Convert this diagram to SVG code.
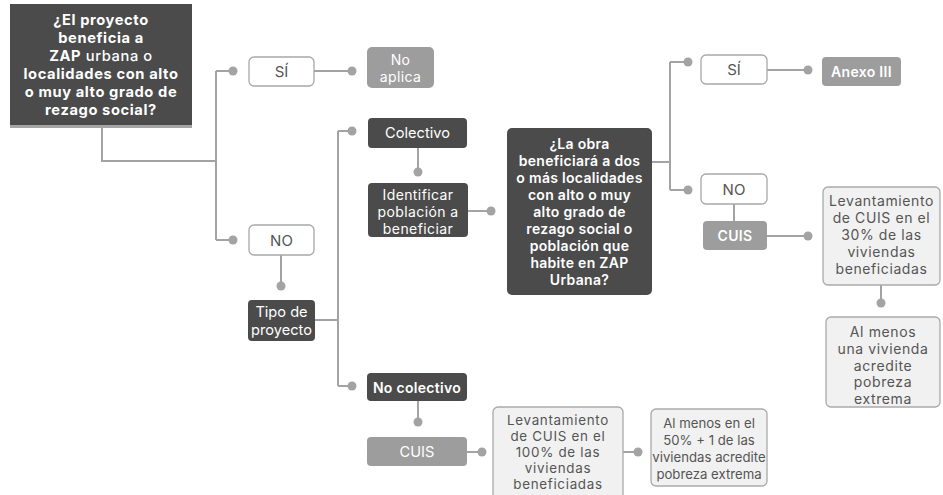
<svg xmlns="http://www.w3.org/2000/svg" width="943" height="495" viewBox="0 0 943 495">
<style>
text{font-family:Inter,"Open Sans","Liberation Sans",sans-serif;text-anchor:middle;dominant-baseline:central}
.dark{fill:#4b4b4b}
.mid{fill:#9d9d9d}
.white{fill:#fff;stroke:#a8a8a8;stroke-width:1.3}
.light{fill:#f1f1f1;stroke:#aaa;stroke-width:1.3}
.tw{fill:#fff;font-size:14.6px}
.tw2{fill:#fff;font-size:14px;letter-spacing:0.4px}
.twb{fill:#fff;font-size:14.7px;font-weight:700;letter-spacing:0.6px}
.tws{fill:#fff;font-size:14px;font-weight:600;letter-spacing:0.3px}
.tg{fill:#555;font-size:15px}
.tl{fill:#555;font-size:14px;letter-spacing:0.6px}
.tl2{fill:#555;font-size:13.4px;letter-spacing:0.7px}
.ts{fill:#555;font-size:13.2px}
.conn path{fill:none;stroke:#a3a3a3;stroke-width:2}
.conn circle{fill:#a3a3a3}
</style>
<rect width="943" height="495" fill="#fff"/>
<g class="conn" id="connectors">
<path d="M102,128 V161 H216 M216,71 V240 M216,71 H233 M216,240 H233"/>
<path d="M314,71 H352"/>
<path d="M281,255 V286"/>
<path d="M314,320 H338 M338,131 V386 M338,131 H352 M338,386 H352"/>
<path d="M418,148 V172"/>
<path d="M468,211 H491"/>
<path d="M652,162 H670 M670,62 V190 M670,62 H688 M670,190 H688"/>
<path d="M767,70 H808"/>
<path d="M734,204 V221"/>
<path d="M767,236 H808"/>
<path d="M881,285 V303"/>
<path d="M418,401 V422"/>
<path d="M467,452 H482"/>
<path d="M623,452 H638"/>
<circle cx="233" cy="71" r="4.5"/><circle cx="233" cy="240" r="4.5"/>
<circle cx="352" cy="71" r="4.5"/><circle cx="281" cy="286" r="4.5"/>
<circle cx="352" cy="131" r="4.5"/><circle cx="352" cy="386" r="4.5"/>
<circle cx="418" cy="172" r="4.5"/><circle cx="491" cy="211" r="4.5"/>
<circle cx="688" cy="62" r="4.5"/><circle cx="688" cy="190" r="4.5"/>
<circle cx="808" cy="70" r="4.5"/><circle cx="808" cy="236" r="4.5"/>
<circle cx="881" cy="303" r="4.5"/><circle cx="418" cy="422" r="4.5"/>
<circle cx="482" cy="452" r="4.5"/><circle cx="638" cy="452" r="4.5"/>
</g>
<g id="q1">
<rect x="10" y="4" width="182" height="124" class="dark"/>
<rect x="10" y="125" width="182" height="3" fill="#a5a5a5"/>
<text class="twb" x="101" y="20">¿El proyecto</text>
<text class="twb" x="101" y="38">beneficia a</text>
<text class="twb" x="101" y="56"><tspan>ZAP</tspan><tspan font-weight="500"> urbana o</tspan></text>
<text class="twb" x="101" y="74">localidades con alto</text>
<text class="twb" x="101" y="92">o muy alto grado de</text>
<text class="twb" x="101" y="110">rezago social?</text>
</g>
<g id="si1"><rect x="249" y="57" width="65" height="29" rx="5" class="white"/><text class="tg" x="281.5" y="71.5">SÍ</text></g>
<g id="noaplica"><rect x="367" y="47" width="67" height="41" rx="5" class="mid"/><text class="tw2" x="400.5" y="59">No</text><text class="tw2" x="400.5" y="76">aplica</text></g>
<g id="no1"><rect x="249" y="225" width="65" height="30" rx="5" class="white"/><text class="tg" x="281.5" y="240">NO</text></g>
<g id="tipo"><rect x="248" y="300" width="67" height="41" rx="4" class="dark"/><text class="tw" x="281.5" y="312">Tipo de</text><text class="tw" x="281.5" y="330">proyecto</text></g>
<g id="colectivo"><rect x="368" y="118" width="99" height="30" rx="4" class="dark"/><text class="tw" x="417.5" y="133" font-size="15">Colectivo</text></g>
<g id="identificar"><rect x="368" y="183" width="100" height="54" rx="4" class="dark"/><text class="tw2" x="418" y="194">Identificar</text><text class="tw2" x="418" y="211">población a</text><text class="tw2" x="418" y="228">beneficiar</text></g>
<g id="q2"><rect x="507" y="128" width="145" height="167" rx="5" class="dark"/>
<text class="tws" x="579.5" y="143">¿La obra</text>
<text class="tws" x="579.5" y="160">beneficiará a dos</text>
<text class="tws" x="579.5" y="177">o más localidades</text>
<text class="tws" x="579.5" y="194">con alto o muy</text>
<text class="tws" x="579.5" y="211">alto grado de</text>
<text class="tws" x="579.5" y="228">rezago social o</text>
<text class="tws" x="579.5" y="245">población que</text>
<text class="tws" x="579.5" y="262">habite en ZAP</text>
<text class="tws" x="579.5" y="279">Urbana?</text>
</g>
<g id="si2"><rect x="701" y="55" width="66" height="29" rx="5" class="white"/><text class="tg" x="734" y="69.5">SÍ</text></g>
<g id="anexo"><rect x="822" y="57" width="79" height="29" rx="4" class="mid"/><text class="tws" x="861.5" y="71.5" font-size="15">Anexo III</text></g>
<g id="no2"><rect x="701" y="174" width="66" height="30" rx="5" class="white"/><text class="tg" x="734" y="189">NO</text></g>
<g id="cuis2"><rect x="703" y="221" width="64" height="29" rx="4" class="mid"/><text class="tws" x="735" y="235.5" font-size="15">CUIS</text></g>
<g id="lev30"><rect x="823" y="187" width="117" height="98" rx="5" class="light"/>
<text class="tl" x="881.5" y="200">Levantamiento</text>
<text class="tl" x="881.5" y="217">de CUIS en el</text>
<text class="tl" x="881.5" y="234">30% de las</text>
<text class="tl" x="881.5" y="251">viviendas</text>
<text class="tl" x="881.5" y="268">beneficiadas</text>
</g>
<g id="almenos1"><rect x="826" y="317" width="114" height="90" rx="5" class="light"/>
<text class="tl" x="883" y="331">Al menos</text>
<text class="tl" x="883" y="348">una vivienda</text>
<text class="tl" x="883" y="365">acredite</text>
<text class="tl" x="883" y="381.5">pobreza</text>
<text class="tl" x="883" y="398">extrema</text>
</g>
<g id="nocolectivo"><rect x="367" y="373" width="100" height="28" rx="4" class="dark"/><text class="tws" x="417" y="387" font-size="15">No colectivo</text></g>
<g id="cuis1"><rect x="367" y="437" width="100" height="29" rx="4" class="mid"/><text class="tw" x="417" y="451.5">CUIS</text></g>
<g id="lev100"><rect x="493" y="407" width="130" height="92" rx="5" class="light"/>
<text class="tl2" x="558" y="420">Levantamiento</text>
<text class="tl2" x="558" y="436">de CUIS en el</text>
<text class="tl2" x="558" y="452">100% de las</text>
<text class="tl2" x="558" y="468">viviendas</text>
<text class="tl2" x="558" y="484">beneficiadas</text>
</g>
<g id="almenos50"><rect x="651" y="409" width="116" height="77" rx="5" class="light"/>
<text class="ts" x="709" y="423">Al menos en el</text>
<text class="ts" x="709" y="440">50% + 1 de las</text>
<text class="ts" x="709" y="457">viviendas acredite</text>
<text class="ts" x="709" y="473.5">pobreza extrema</text>
</g>
</svg>
